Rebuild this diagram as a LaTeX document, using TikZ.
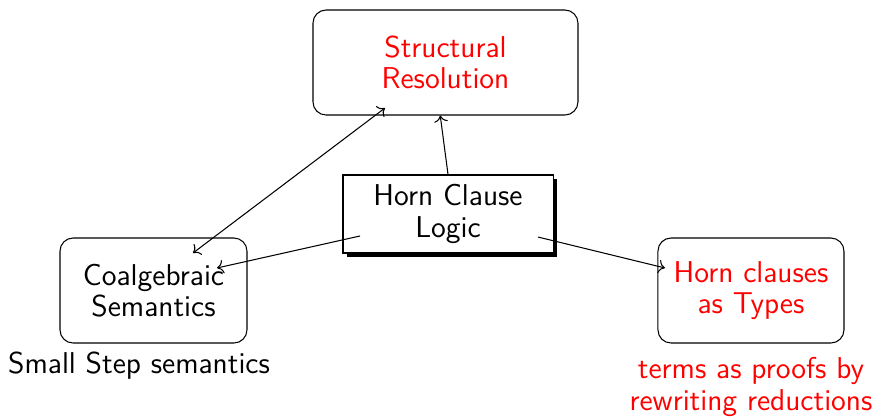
\documentclass[tikz,border=0pt]{standalone}
\usepackage{tikz}
\usetikzlibrary{arrows.meta,calc,shadows}

\begin{document}
\begin{tikzpicture}[
  font=\sffamily\fontsize{11.5}{12}\selectfont,
  rb/.style={draw,rounded corners=5pt,align=center,minimum width=#1,minimum height=1.408cm},rb/.default=2.5cm,
  hb/.style={draw,fill=white,align=center,minimum width=2.816cm,minimum height=1.046cm,
             drop shadow={shadow xshift=1.5pt,shadow yshift=-1.5pt,fill=black,opacity=1}}]
  \useasboundingbox (0,0) rectangle (11.732,-5.578);
  \node[rb=3.553cm,text=red] (SR) at (5.973,-0.838) {Structural\\Resolution};
  \node[hb] (HL) at (6.007,-2.869) {Horn Clause\\Logic};
  \node[rb=2.507cm] (CS) at (2.058,-3.895) {Coalgebraic\\Semantics};
  \node[rb=2.494cm,text=red] (HT) at (10.069,-3.895) {Horn clauses\\as Types};
  \node (SS) at (1.864,-4.907) {Small Step semantics};
  \node[text=red,align=center] (TP) at (10.069,-5.189) {terms as proofs by\\rewriting reductions};
  % arrow ends inside the boxes
  \coordinate (SRa) at (5.162,-1.448);
  \coordinate (CSa) at (2.588,-3.392);
  \coordinate (HLw) at (4.827,-3.164);
  \coordinate (CSb) at (2.910,-3.593);
  \coordinate (HLe) at (7.214,-3.178);
  \coordinate (HTa) at (8.916,-3.593);
  \draw[-{To}] (HL.north) -- ([xshift=-2pt]SR.south);
  \draw[{To}-{To}] (SRa) -- (CSa);
  \draw[-{To}] (HLw) -- (CSb);
  \draw[-{To}] (HLe) -- (HTa);
\end{tikzpicture}
\end{document}
